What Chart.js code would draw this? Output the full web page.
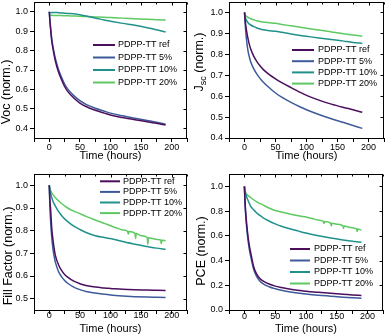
<!DOCTYPE html>
<html><head><meta charset="utf-8">
<script src="https://cdn.jsdelivr.net/npm/chart.js@4.4.1/dist/chart.umd.min.js"></script>
<style>
html,body{margin:0;padding:0;background:#fff;}
#wrap{position:relative;width:385px;height:336px;overflow:hidden;}
canvas{position:absolute;}
</style></head><body>
<div id="wrap">
<canvas id="c1" width="192" height="168" style="left:0;top:0"></canvas>
<canvas id="c2" width="193" height="168" style="left:192px;top:0"></canvas>
<canvas id="c3" width="192" height="168" style="left:0;top:168px"></canvas>
<canvas id="c4" width="193" height="168" style="left:192px;top:168px"></canvas>
</div>
<script>
// ---------- data ----------
const seriesNames = ['PDPP-TT ref', 'PDPP-TT 5%', 'PDPP-TT 10%', 'PDPP-TT 20%'];
const hours = [0,1,2,4,6,8,10,15,20,25,30,40,50,60,75,90,100,120,140,160,175,190];
const hoursNoisy = [0,1,2,5,10,20,30,40,50,60,75,90,100,110,120,128,129,130,140,141,142,150,160,161,162,170,180,182,183,184,190];

const vocRef = [1.0,0.95,0.915,0.85,0.81,0.775,0.745,0.69,0.65,0.615,0.59,0.556,0.53,0.512,0.493,0.478,0.468,0.455,0.444,0.434,0.426,0.417];
const voc5   = [1.0,0.955,0.922,0.86,0.82,0.787,0.758,0.703,0.663,0.628,0.603,0.568,0.542,0.523,0.503,0.488,0.478,0.464,0.452,0.44,0.431,0.421];
const voc10  = [0.993,0.994,0.995,0.996,0.996,0.996,0.996,0.995,0.994,0.992,0.991,0.99,0.984,0.978,0.968,0.957,0.951,0.94,0.93,0.918,0.907,0.896];
const voc20  = [0.982,0.982,0.982,0.982,0.981,0.981,0.981,0.98,0.98,0.979,0.979,0.978,0.977,0.975,0.973,0.971,0.97,0.967,0.964,0.961,0.959,0.957];

const jscRef = [1.0,0.965,0.94,0.9,0.87,0.845,0.825,0.79,0.765,0.745,0.728,0.703,0.683,0.665,0.641,0.618,0.604,0.581,0.562,0.546,0.535,0.523];
const jsc5   = [1.0,0.95,0.91,0.85,0.81,0.785,0.765,0.73,0.705,0.685,0.668,0.64,0.615,0.595,0.57,0.548,0.535,0.512,0.492,0.474,0.46,0.446];
const jsc10  = [1.0,0.98,0.97,0.958,0.95,0.944,0.94,0.932,0.926,0.921,0.917,0.913,0.91,0.905,0.897,0.89,0.886,0.878,0.871,0.863,0.857,0.852];
const jsc20  = [1.0,0.99,0.985,0.98,0.976,0.973,0.97,0.965,0.96,0.957,0.954,0.951,0.948,0.943,0.936,0.929,0.925,0.916,0.907,0.898,0.892,0.887];

const ffRef = [1.0,0.93,0.9,0.81,0.76,0.72,0.69,0.65,0.625,0.607,0.595,0.577,0.566,0.558,0.551,0.547,0.545,0.541,0.539,0.538,0.537,0.536];
const ff5   = [1.0,0.9,0.85,0.77,0.72,0.685,0.66,0.62,0.597,0.58,0.568,0.551,0.54,0.532,0.525,0.519,0.516,0.512,0.509,0.507,0.506,0.505];
const ff10  = [1.0,0.98,0.965,0.945,0.93,0.918,0.908,0.885,0.867,0.852,0.84,0.82,0.805,0.792,0.778,0.77,0.765,0.752,0.74,0.73,0.723,0.718];
const ff20  = [1.0,0.985,0.977,0.962,0.945,0.92,0.9,0.886,0.875,0.863,0.847,0.832,0.822,0.812,0.803,0.797,0.785,0.796,0.788,0.765,0.787,0.778,0.77,0.74,0.769,0.764,0.76,0.759,0.742,0.758,0.756];

const pceRef = [1.0,0.88,0.8,0.68,0.59,0.52,0.47,0.35,0.29,0.255,0.235,0.21,0.193,0.182,0.168,0.158,0.152,0.143,0.135,0.128,0.122,0.117];
const pce5   = [1.0,0.86,0.77,0.65,0.56,0.49,0.44,0.33,0.27,0.235,0.213,0.188,0.172,0.16,0.146,0.136,0.13,0.12,0.112,0.104,0.099,0.095];
const pce10  = [1.0,0.96,0.94,0.91,0.885,0.862,0.84,0.81,0.785,0.765,0.748,0.72,0.697,0.678,0.655,0.635,0.622,0.6,0.582,0.567,0.557,0.548];
const pce20  = [1.0,0.965,0.95,0.93,0.91,0.875,0.85,0.825,0.805,0.792,0.775,0.76,0.752,0.74,0.727,0.717,0.7,0.715,0.703,0.68,0.702,0.694,0.68,0.66,0.679,0.67,0.66,0.657,0.635,0.655,0.647];

const xTickValues = [-25,0,25,50,75,100,125,150,175,200,225];
const xTickLabels = [0,50,100,150,200];
const vocTicks = [0.4,0.5,0.6,0.7,0.8,0.9,1.0];
const jscTicks = [0.4,0.5,0.6,0.7,0.8,0.9,1.0];
const ffTicks  = [0.5,0.6,0.7,0.8,0.9,1.0];
const pceTicks = [0.0,0.2,0.4,0.6,0.8,1.0];

// ---------- styles ----------
const COLORS = ['#4b0f5e', '#3e5a9b', '#21918c', '#5ec962'];
const FONT = "'Liberation Sans', Arial, sans-serif";
Chart.defaults.font.family = FONT;
Chart.defaults.color = '#000';

const yTitlePlugin = {
  id: 'yTitle',
  afterDraw(chart, args, o) {
    if (!o || !o.parts) return;
    const ctx = chart.ctx; ctx.save();
    ctx.translate(o.x, o.y); ctx.rotate(-Math.PI / 2);
    ctx.fillStyle = '#000'; ctx.textBaseline = 'middle'; ctx.textAlign = 'left';
    const big = o.size + 'px ' + FONT, small = Math.round(o.size * 0.7) + 'px ' + FONT;
    let w = 0;
    o.parts.forEach(p => { ctx.font = p.sub ? small : big; w += ctx.measureText(p.t).width; });
    let x = -w / 2;
    o.parts.forEach(p => { ctx.font = p.sub ? small : big; ctx.fillText(p.t, x, p.sub ? o.size * 0.3 : 0); x += ctx.measureText(p.t).width; });
    ctx.restore();
  }
};
const legendPlugin = {
  id: 'insideLegend',
  afterDraw(chart, args, o) {
    if (!o || o.x === undefined) return;
    const ctx = chart.ctx; ctx.save();
    ctx.font = o.size + 'px ' + FONT; ctx.textBaseline = 'middle'; ctx.textAlign = 'left';
    chart.data.datasets.forEach((ds, i) => {
      const y = o.y + i * o.dy;
      ctx.strokeStyle = ds.borderColor; ctx.lineWidth = 2;
      ctx.beginPath(); ctx.moveTo(o.x, y); ctx.lineTo(o.x + o.len, y); ctx.stroke();
      ctx.fillStyle = '#000'; ctx.fillText(ds.label, o.x + o.len + o.gap, y);
    });
    ctx.restore();
  }
};
const framePlugin = {
  id: 'frame',
  afterDraw(chart) {
    const ctx = chart.ctx, a = chart.chartArea, xs = chart.scales.x, ys = chart.scales.y;
    ctx.save(); ctx.strokeStyle = '#000'; ctx.lineWidth = 1;
    const top = Math.round(a.top) + 0.5, right = Math.round(a.right) - 0.5;
    ctx.beginPath();
    ctx.moveTo(Math.round(a.left), top); ctx.lineTo(right + 0.5, top);
    ctx.moveTo(right, top); ctx.lineTo(right, Math.round(a.bottom));
    xs.ticks.forEach(t => {
      const px = Math.round(xs.getPixelForValue(t.value)) + 0.5;
      const len = xTickLabels.includes(t.value) ? 3 : 2;
      ctx.moveTo(px, top); ctx.lineTo(px, top + len);
    });
    ys.ticks.forEach(t => {
      const py = Math.round(ys.getPixelForValue(t.value)) + 0.5;
      ctx.moveTo(right, py); ctx.lineTo(right - 3, py);
    });
    ctx.stroke(); ctx.restore();
  }
};
Chart.register(yTitlePlugin, legendPlugin, framePlugin);

function pts(t, v) { return t.map((x, i) => ({ x: x, y: v[i] })); }

function makeChart(id, series, yTicks, c) {
  const axisGrid = { display: true, drawOnChartArea: false, drawTicks: true, tickLength: 4, tickColor: '#000', tickWidth: 1 };
  new Chart(document.getElementById(id), {
    type: 'line',
    data: {
      datasets: series.map((s, i) => ({
        label: seriesNames[i], data: pts(s.t, s.v),
        borderColor: COLORS[i], backgroundColor: COLORS[i],
        borderWidth: 1.5, pointRadius: 0, fill: false, cubicInterpolationMode: 'monotone'
      }))
    },
    options: {
      responsive: false, animation: false, devicePixelRatio: 1,
      layout: { padding: { top: c.pt, right: c.pr, left: 0, bottom: 0 } },
      scales: {
        x: {
          type: 'linear', min: -25, max: 225,
          afterBuildTicks: s => { s.ticks = xTickValues.map(v => ({ value: v })); },
          afterFit: s => { s.height = c.xh; s.paddingLeft = 0; s.paddingRight = 0; },
          ticks: { autoSkip: false, maxRotation: 0, padding: c.xp, font: { size: 9 },
                   callback: v => xTickLabels.includes(v) ? String(v) : '' },
          grid: axisGrid,
          border: { display: true, color: '#000', width: 1 },
          title: { display: true, text: 'Time (hours)', font: { size: 11 }, padding: { top: 0, bottom: c.tb } }
        },
        y: {
          type: 'linear', min: c.ymin, max: c.ymax,
          afterBuildTicks: s => { s.ticks = yTicks.map(v => ({ value: v })); },
          afterFit: s => { s.width = c.yw; s.paddingTop = 0; s.paddingBottom = 0; },
          ticks: { padding: 2, font: { size: 9 }, callback: v => Number(v).toFixed(1) },
          grid: axisGrid,
          border: { display: true, color: '#000', width: 1 }
        }
      },
      plugins: {
        legend: { display: false }, tooltip: { enabled: false },
        yTitle: { x: c.tx, y: c.ty, size: 12.5, parts: c.title },
        insideLegend: c.legend
      }
    }
  });
}

makeChart('c1', [
  { t: hours, v: vocRef }, { t: hours, v: voc5 }, { t: hours, v: voc10 }, { t: hours, v: voc20 }
], vocTicks, { ymin: 0.35, ymax: 1.05, yw: 34, xh: 30, pt: 2, pr: 5, tb: 5.5, xp: 0,
  tx: 6.5, ty: 92, title: [{ t: 'Voc (norm.)' }],
  legend: { x: 93, y: 45, dy: 12.5, len: 22, gap: 3, size: 9 } });

makeChart('c2', [
  { t: hours, v: jscRef }, { t: hours, v: jsc5 }, { t: hours, v: jsc10 }, { t: hours, v: jsc20 }
], jscTicks, { ymin: 0.4, ymax: 1.05, yw: 37, xh: 30, pt: 2, pr: 1, tb: 5, xp: 0,
  tx: 8, ty: 62, title: [{ t: 'J' }, { t: 'sc', sub: true }, { t: ' (norm.)' }],
  legend: { x: 100, y: 50, dy: 11.2, len: 22, gap: 4, size: 9 } });

makeChart('c3', [
  { t: hours, v: ffRef }, { t: hours, v: ff5 }, { t: hours, v: ff10 }, { t: hoursNoisy, v: ff20 }
], ffTicks, { ymin: 0.45, ymax: 1.05, yw: 34, xh: 26, pt: 6, pr: 5, tb: 0.5, xp: -3.5,
  tx: 9, ty: 88, title: [{ t: 'Fill Factor (norm.)' }],
  legend: { x: 100, y: 13.3, dy: 10.6, len: 20, gap: 3, size: 9 } });

makeChart('c4', [
  { t: hours, v: pceRef }, { t: hours, v: pce5 }, { t: hours, v: pce10 }, { t: hoursNoisy, v: pce20 }
], pceTicks, { ymin: 0, ymax: 1.1, yw: 37, xh: 26, pt: 6, pr: 2, tb: 0, xp: -3,
  tx: 10, ty: 83, title: [{ t: 'PCE (norm.)' }],
  legend: { x: 98, y: 81, dy: 11.5, len: 20, gap: 4, size: 9 } });
</script>
</body></html>
